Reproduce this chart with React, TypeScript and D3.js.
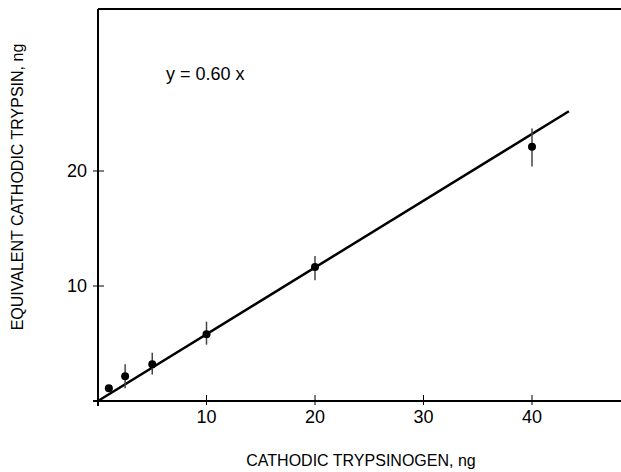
import * as React from 'react'
import * as d3 from 'd3'

// readings
const amounts = [1, 2.5, 5, 10, 20, 40]
const measured = [1.1, 2.15, 3.2, 5.8, 11.65, 22.1]
const errLow = [1.1, 1.1, 2.3, 4.9, 10.5, 20.4]
const errHigh = [1.1, 3.2, 4.2, 6.9, 12.6, 23.7]
const fitLine: [number, number][] = [[0, 0], [43.4, 25.2]]
const xTicks = [10, 20, 30, 40]
const yTicks = [10, 20]

const W = 621
const H = 472
const font = 'Liberation Sans, Arial, sans-serif'

export default function App() {
    const x = d3.scaleLinear().domain([0, 40]).range([98, 532])
    const y = d3.scaleLinear().domain([0, 20]).range([401, 171])
    const x0 = x(0)
    const y0 = y(0)
    const line = d3.line<[number, number]>().x(d => x(d[0])).y(d => y(d[1]))

    return <svg width={W} height={H} style={{ position: 'absolute', left: 0, top: 0 }} fontFamily={font}>
        <rect width={W} height={H} fill='#fff' />
        {/* frame: left axis, bottom axis, top rule */}
        <line x1={x0} x2={x0} y1={9} y2={y0 + 5} stroke='#000' strokeWidth={2} />
        <line x1={x0 - 5} x2={W} y1={y0} y2={y0} stroke='#000' strokeWidth={2} />
        <line x1={x0} x2={W} y1={9} y2={9} stroke='#000' strokeWidth={2} />

        {xTicks.map(t => <g key={t}>
            <line x1={x(t)} x2={x(t)} y1={y0 - 6} y2={y0 + 4} stroke='#000' strokeWidth={1} />
            <text x={x(t)} y={y0 + 22} fontSize={18} textAnchor='middle'>{t}</text>
        </g>)}
        {yTicks.map(t => <g key={t}>
            <line x1={x0 - 5} x2={x0 + 6} y1={y(t)} y2={y(t)} stroke='#000' strokeWidth={1} />
            <text x={x0 - 11} y={y(t) + 6} fontSize={18} textAnchor='end'>{t}</text>
        </g>)}

        <path d={line(fitLine) ?? ''} fill='none' stroke='#000' strokeWidth={2.5} />

        {amounts.map((a, i) => <g key={a}>
            {errHigh[i] > errLow[i] &&
                <line x1={x(a)} x2={x(a)} y1={y(errHigh[i])} y2={y(errLow[i])} stroke='#444' strokeWidth={1.5} />}
            <circle cx={x(a)} cy={y(measured[i])} r={4} fill='#000' />
        </g>)}

        <text x={166} y={80} fontSize={18}>y = 0.60 x</text>
        <text x={361} y={466} fontSize={16} textAnchor='middle'>CATHODIC TRYPSINOGEN, ng</text>
        <text transform={`translate(23, 187) rotate(-90)`} fontSize={16} textAnchor='middle'>EQUIVALENT CATHODIC TRYPSIN, ng</text>
    </svg>
}
